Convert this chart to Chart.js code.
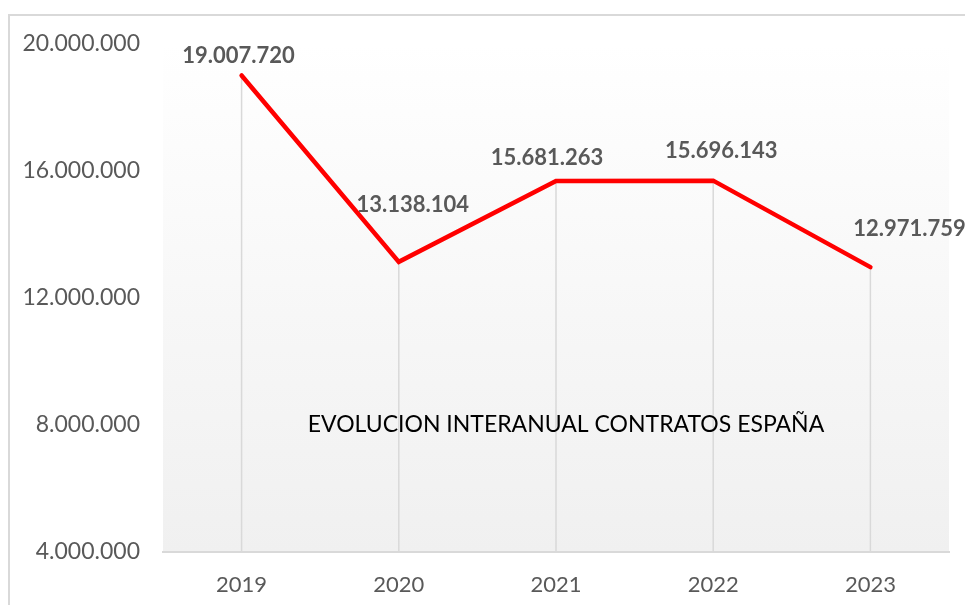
<!DOCTYPE html>
<html>
<head>
<meta charset="utf-8">
<script src="https://cdn.jsdelivr.net/npm/chart.js@4.4.0/dist/chart.umd.min.js"></script>
<style>
html,body{margin:0;padding:0;background:#fff}
#wrap{position:relative;width:965px;height:605px}
</style>
</head>
<body>
<div id="wrap"><canvas id="myChart" width="965" height="605"></canvas></div>
<script>
var years = ['2019', '2020', '2021', '2022', '2023'];
var contratos = [19007720, 13138104, 15681263, 15696143, 12971759];
var yTicks = [4000000, 8000000, 12000000, 16000000, 20000000];
var chartTitle = 'EVOLUCION INTERANUAL CONTRATOS ESPAÑA';

// where Excel left each value label, relative to its point
var labelOffsets = [[-3, -20], [14, -57], [-9, -23], [8, -30], [39, -38]];

function miles(v){
  return String(v).replace(/\B(?=(\d{3})+(?!\d))/g, '.');
}

var fondo = {
  id: 'fondo',
  beforeDraw: function(chart){
    var c = chart.ctx, a = chart.chartArea;
    c.save();
    var g = c.createLinearGradient(0, a.top, 0, a.bottom);
    g.addColorStop(0, '#ffffff');
    g.addColorStop(1, '#f0f0f0');
    c.fillStyle = g;
    c.fillRect(a.left, a.top, a.right - a.left, a.bottom - a.top);
    // marco del grafico
    c.strokeStyle = '#d9d9d9';
    c.lineWidth = 2;
    c.beginPath();
    c.moveTo(9, chart.height);
    c.lineTo(9, 15);
    c.lineTo(chart.width, 15);
    c.stroke();
    c.restore();
  }
};

var lineasDescenso = {
  id: 'lineasDescenso',
  beforeDatasetsDraw: function(chart){
    var c = chart.ctx, a = chart.chartArea;
    var pts = chart.getDatasetMeta(0).data;
    c.save();
    c.strokeStyle = '#d9d9d9';
    c.lineWidth = 1.5;
    pts.forEach(function(p){
      c.beginPath();
      c.moveTo(p.x, p.y);
      c.lineTo(p.x, a.bottom);
      c.stroke();
    });
    c.restore();
  }
};

var etiquetas = {
  id: 'etiquetas',
  afterDatasetsDraw: function(chart){
    var c = chart.ctx;
    var pts = chart.getDatasetMeta(0).data;
    c.save();
    c.font = 'bold 22px Lato';
    c.fillStyle = '#595959';
    c.textAlign = 'center';
    c.textBaseline = 'middle';
    pts.forEach(function(p, i){
      c.fillText(miles(contratos[i]), p.x + labelOffsets[i][0], p.y + labelOffsets[i][1]);
    });
    // titulo dentro del area
    var xs = chart.scales.x, ys = chart.scales.y;
    c.font = '23px Lato';
    c.fillStyle = '#000000';
    c.fillText(chartTitle, xs.getPixelForValue(2) + 10, ys.getPixelForValue(8000000));
    c.restore();
  }
};

var ctx = document.getElementById('myChart');
var myChart = new Chart(ctx, {
  type: 'line',
  data: {
    labels: years,
    datasets: [{
      label: 'contratos',
      data: contratos,
      borderColor: '#ff0000',
      borderWidth: 4.5,
      borderCapStyle: 'round',
      borderJoinStyle: 'miter',
      pointRadius: 0,
      tension: 0
    }]
  },
  options: {
    responsive: false,
    animation: false,
    layout: {padding: {top: 44, right: 16, bottom: 0, left: 0}},
    plugins: {legend: {display: false}, tooltip: {enabled: false}},
    scales: {
      x: {
        offset: true,
        grid: {display: false, drawTicks: false},
        border: {display: true, color: '#d9d9d9', width: 2},
        ticks: {color: '#595959', font: {family: 'Lato', size: 22}, padding: 20, maxRotation: 0, autoSkip: false},
        afterFit: function(s){ s.height = 53; }
      },
      y: {
        min: 4000000,
        max: 20000000,
        afterBuildTicks: function(s){ s.ticks = yTicks.map(function(v){ return {value: v}; }); },
        grid: {display: false, drawTicks: false},
        border: {display: false},
        ticks: {
          color: '#595959',
          font: {family: 'Lato', size: 23},
          padding: 23,
          callback: function(v){ return miles(v); }
        },
        afterFit: function(s){ s.width = 163; }
      }
    }
  },
  plugins: [fondo, lineasDescenso, etiquetas]
});
</script>
</body>
</html>
